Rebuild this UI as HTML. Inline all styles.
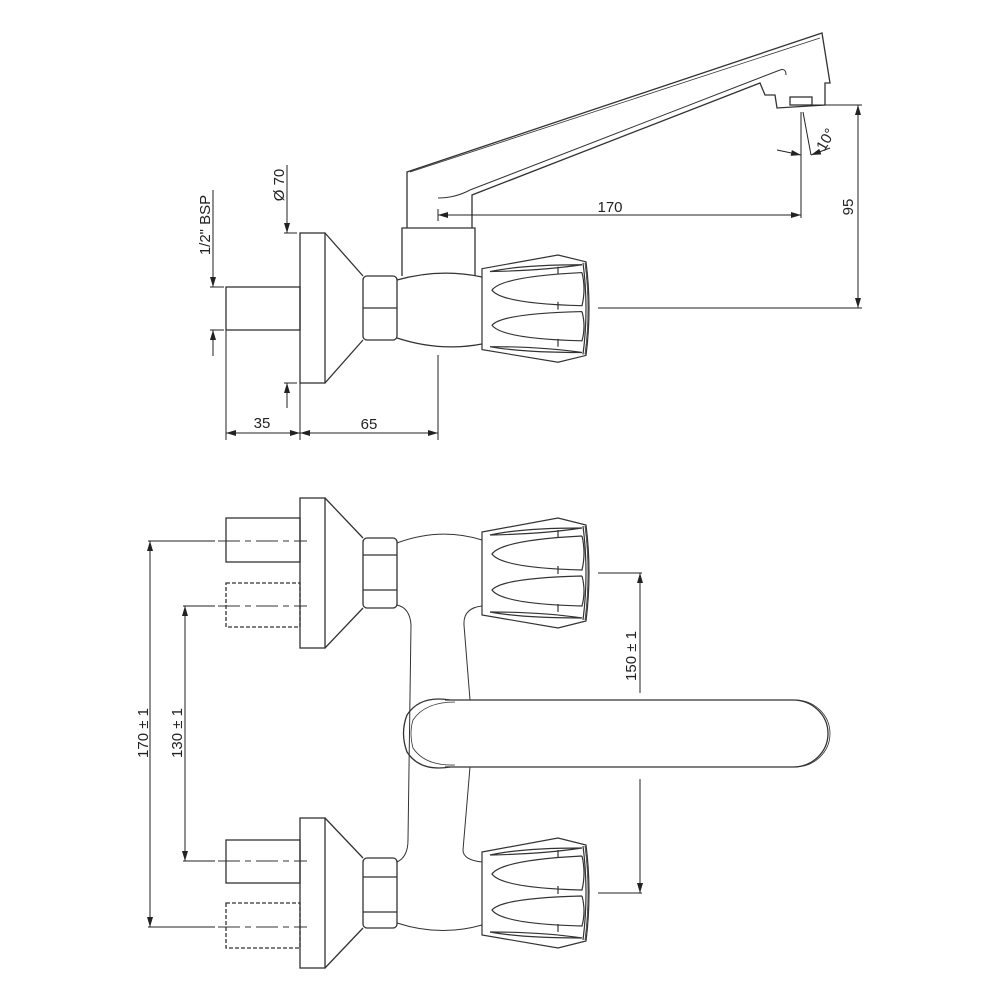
<!DOCTYPE html>
<html><head><meta charset="utf-8"><style>
html,body{margin:0;padding:0;background:#fff;}
svg{display:block;}
text{font-family:"Liberation Sans",Arial,sans-serif;font-size:15px;fill:#222;}
</style></head><body>
<svg width="1000" height="1000" viewBox="0 0 1000 1000" xmlns="http://www.w3.org/2000/svg">
<defs>
<marker id="a" viewBox="0 0 10 6" refX="10" refY="3" markerWidth="10" markerHeight="6" orient="auto-start-reverse" markerUnits="userSpaceOnUse"><path d="M0,0 L10,3 L0,6 Z" fill="#222"/></marker>
<g id="knob" fill="none" stroke="#333" stroke-width="1.2">
<path d="M0,14 L76,0 L104,7 Q110,55 104,103 L76,110 L0,97 Z"/>
<path d="M101,8 Q107,55 101,102"/>
<path d="M103,8 Q109,55 103,102" stroke-width="0.8"/>
<path d="M8,17 Q40,10 100,10 Q60,16 8,17"/>
<path d="M100,18 Q20,22 10,36 Q20,50 100,52 Q104,35 100,18"/>
<path d="M100,58 Q20,60 10,72 Q20,86 100,88 Q104,73 100,58"/>
<path d="M8,94 Q40,100 100,100 Q60,94 8,94"/>
<line x1="76" y1="12" x2="76" y2="20"/><line x1="76" y1="48" x2="76" y2="56"/><line x1="76" y1="86" x2="76" y2="94"/>
</g>
<g id="flange" fill="none" stroke="#333" stroke-width="1.3">
<rect x="300" y="0" width="25" height="150"/>
<path d="M325,0 L363,40 M325,150 L363,110"/>
<rect x="363" y="40" width="34" height="70" rx="4"/>
</g>
</defs>

<g fill="none" stroke="#333" stroke-width="1.3">
<rect x="226" y="287" width="74" height="43"/>
<rect x="300" y="233" width="25" height="150"/>
<path d="M325,233 L363,276 M325,383 L363,340"/>
<rect x="363" y="276" width="34" height="64" rx="4"/>
<line x1="363" y1="308" x2="397" y2="308"/>
<path d="M397,280 Q440,268 482,277"/>
<path d="M397,338 Q440,352 482,344"/>
<path d="M402,276 L402,228 L475,228 L475,276"/>
<path d="M407,228 L407,172 L822,33 L830,83 L825,83 L825,105 L777,108 L775,95 L765,95 L760,83 L472,195 L472,228"/>
<path d="M410,172 L820,38" stroke-width="0.8"/>
<path d="M438,198 Q455,198 470,190 L780,70 Q786,68 786,75" stroke-width="1"/>
<rect x="790" y="97" width="22" height="8"/>
<use href="#knob" transform="translate(482,255) scale(1,0.975)"/>

<g stroke="#222" stroke-width="1">
<line x1="226" y1="330" x2="226" y2="440"/>
<line x1="300" y1="383" x2="300" y2="440"/>
<line x1="438" y1="355" x2="438" y2="440"/>
<line x1="226" y1="433" x2="300" y2="433" marker-start="url(#a)" marker-end="url(#a)"/>
<line x1="300" y1="433" x2="438" y2="433" marker-start="url(#a)" marker-end="url(#a)"/>
<line x1="213" y1="190" x2="213" y2="287" marker-end="url(#a)"/>
<line x1="210" y1="287" x2="224" y2="287"/>
<line x1="213" y1="356" x2="213" y2="330" marker-end="url(#a)"/>
<line x1="210" y1="330" x2="224" y2="330"/>
<line x1="287" y1="165" x2="287" y2="233" marker-end="url(#a)"/>
<line x1="284" y1="233" x2="297" y2="233"/>
<line x1="287" y1="408" x2="287" y2="383" marker-end="url(#a)"/>
<line x1="284" y1="383" x2="297" y2="383"/>
<line x1="438" y1="215" x2="801" y2="215" marker-start="url(#a)" marker-end="url(#a)"/>
<line x1="438" y1="209" x2="438" y2="221"/>
<line x1="801" y1="112" x2="801" y2="218"/>
<line x1="803" y1="112" x2="811" y2="155"/>
<path d="M777,150 L801,155" marker-end="url(#a)"/>
<path d="M830,148 L811,155" marker-end="url(#a)"/>
<line x1="810" y1="105" x2="862" y2="105"/>
<line x1="598" y1="308" x2="862" y2="308"/>
<line x1="858" y1="105" x2="858" y2="308" marker-start="url(#a)" marker-end="url(#a)"/>
</g>
</g>
<text x="262" y="428" text-anchor="middle">35</text>
<text x="369" y="429" text-anchor="middle">65</text>
<text x="610" y="212" text-anchor="middle">170</text>
<text transform="translate(853,207) rotate(-90)" text-anchor="middle">95</text>
<text transform="translate(830,142) rotate(-60)" text-anchor="middle">10°</text>
<text transform="translate(210,225) rotate(-90)" text-anchor="middle">1/2" BSP</text>
<text transform="translate(284,185) rotate(-90)" text-anchor="middle">Ø 70</text>

<g fill="none" stroke="#333" stroke-width="1.3">
<use href="#flange" transform="translate(0,498)"/>
<line x1="363" y1="555" x2="397" y2="555"/><line x1="363" y1="590" x2="397" y2="590"/>
<use href="#flange" transform="translate(0,818)"/>
<line x1="363" y1="877" x2="397" y2="877"/><line x1="363" y1="912" x2="397" y2="912"/>
<rect x="226" y="518" width="74" height="44"/>
<rect x="226" y="840" width="74" height="43"/>
<rect x="226" y="583" width="74" height="44" stroke-dasharray="4,2"/>
<rect x="226" y="903" width="74" height="45" stroke-dasharray="4,2"/>
<g stroke-width="1" stroke-dasharray="22,5,6,5">
<line x1="218" y1="541" x2="307" y2="541"/>
<line x1="218" y1="606" x2="307" y2="606"/>
<line x1="218" y1="861" x2="307" y2="861"/>
<line x1="218" y1="927" x2="307" y2="927"/>
</g>
<g stroke-width="1">
<path d="M397,543 Q440,527 482,540"/>
<path d="M397,605 Q410,608 411,625 L408,840 Q408,857 397,862"/>
<path d="M482,606 Q463,608 464,625 L470,700"/>
<path d="M470,767 L463,850 Q463,860 482,862"/>
<path d="M397,923 Q440,937 482,925"/>
</g>
<use href="#knob" transform="translate(482,518)"/>
<use href="#knob" transform="translate(482,838)"/>
<path d="M445,700 L793,700 A35,33.5 0 0 1 793,767 L445,767"/>
<path d="M795,700 A35,33.5 0 0 1 795,767" stroke-width="0.8"/>
<path d="M450,700 Q420,695 407,715 Q400,733 407,752 Q420,772 450,767"/>
<path d="M455,702 Q425,702 413,720 Q409,733 413,748 Q425,766 455,765" stroke-width="0.8"/>
<g stroke="#222" stroke-width="1">
<line x1="148" y1="541" x2="215" y2="541"/>
<line x1="148" y1="927" x2="215" y2="927"/>
<line x1="150" y1="541" x2="150" y2="927" marker-start="url(#a)" marker-end="url(#a)"/>
<line x1="183" y1="606" x2="215" y2="606"/>
<line x1="183" y1="861" x2="215" y2="861"/>
<line x1="185" y1="606" x2="185" y2="861" marker-start="url(#a)" marker-end="url(#a)"/>
<line x1="598" y1="573" x2="642" y2="573"/>
<line x1="598" y1="893" x2="642" y2="893"/>
<line x1="640" y1="693" x2="640" y2="573" marker-end="url(#a)"/>
<line x1="640" y1="779" x2="640" y2="893" marker-end="url(#a)"/>
</g>
</g>
<text transform="translate(148,733) rotate(-90)" text-anchor="middle">170 ± 1</text>
<text transform="translate(182,733) rotate(-90)" text-anchor="middle">130 ± 1</text>
<text transform="translate(636,656) rotate(-90)" text-anchor="middle">150 ± 1</text>
</svg>
</body></html>
